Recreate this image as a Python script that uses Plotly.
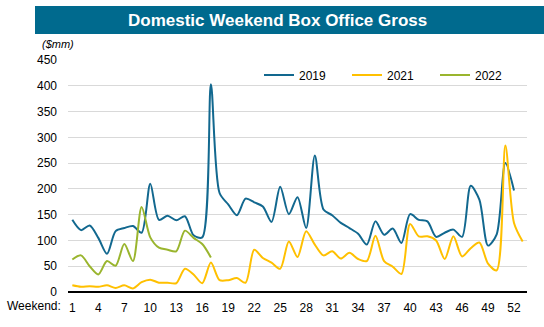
import plotly.graph_objects as go

weeks_2019 = list(range(1, 53))
vals_2019 = [140, 120, 129, 105, 74, 118, 124, 128, 115, 210,
             140, 148, 139, 147, 110, 106, 403, 192, 170, 149,
             181, 174, 166, 136, 204, 151, 184, 124, 265, 160,
             149, 134, 124, 113, 92, 137, 111, 123, 95, 151,
             140, 137, 107, 115, 121, 107, 206, 179, 90, 112,
             250, 197]

weeks_2021 = list(range(1, 54))
vals_2021 = [13, 10, 11, 10, 13, 8, 13, 7, 19, 24,
             18, 18, 17, 45, 34, 17, 57, 23, 23, 27,
             18, 82, 66, 57, 45, 98, 68, 118, 92, 71,
             79, 65, 76, 64, 60, 109, 60, 49, 35, 132,
             108, 108, 100, 64, 108, 69, 85, 96, 55, 42,
             284, 134, 98]

weeks_2022 = list(range(1, 18))
vals_2022 = [63, 71, 50, 34, 60, 51, 93, 60, 165, 106,
             86, 82, 79, 119, 105, 93, 67]

tick_vals = list(range(1, 53, 3))
y_ticks = list(range(0, 451, 50))

C19 = "#12688F"
C21 = "#FFC000"
C22 = "#9AB52E"

fig = go.Figure()
fig.add_trace(go.Scatter(x=weeks_2019, y=vals_2019, name="2019", mode="lines",
                         line=dict(color=C19, width=2, shape="spline", smoothing=0.8)))
fig.add_trace(go.Scatter(x=weeks_2021, y=vals_2021, name="2021", mode="lines",
                         line=dict(color=C21, width=2, shape="spline", smoothing=0.8)))
fig.add_trace(go.Scatter(x=weeks_2022, y=vals_2022, name="2022", mode="lines",
                         line=dict(color=C22, width=2, shape="spline", smoothing=0.8)))

L, R, T, B = 68, 17, 60, 34.5
W, H = 544, 327
pw, ph = W - L - R, H - T - B

def px_to_paper_x(px):
    return (px - L) / pw

def px_to_paper_y(py):
    return (H - B - py) / ph

fig.add_shape(type="rect", xref="paper", yref="paper",
              x0=px_to_paper_x(35), x1=px_to_paper_x(546),
              y0=px_to_paper_y(34), y1=px_to_paper_y(6),
              fillcolor="#006A8E", line=dict(width=0), layer="below")

fig.add_annotation(text="<b>Domestic Weekend Box Office Gross</b>", xref="paper", yref="paper",
                   x=px_to_paper_x(277), y=px_to_paper_y(20), showarrow=False,
                   font=dict(family="Liberation Sans, Arial", size=17, color="white"),
                   xanchor="center", yanchor="middle")
fig.add_annotation(text="<i>($mm)</i>", xref="paper", yref="paper",
                   x=px_to_paper_x(40), y=px_to_paper_y(44), showarrow=False,
                   font=dict(family="Liberation Sans, Arial", size=11, color="black"),
                   xanchor="left", yanchor="middle")
fig.add_annotation(text="Weekend:", xref="paper", yref="paper",
                   x=px_to_paper_x(63), y=px_to_paper_y(307), showarrow=False,
                   font=dict(family="Liberation Sans, Arial", size=12, color="black"),
                   xanchor="right", yanchor="middle")

fig.update_layout(
    width=W, height=H,
    margin=dict(l=L, r=R, t=T, b=B, pad=0),
    paper_bgcolor="white", plot_bgcolor="white",
    font=dict(family="Liberation Sans, Arial", size=12, color="black"),
    showlegend=True,
    legend=dict(orientation="h", x=px_to_paper_x(259), y=px_to_paper_y(75),
                xanchor="left", yanchor="middle", entrywidth=43, entrywidthmode="pixels",
                font=dict(size=12), bgcolor="rgba(0,0,0,0)", itemwidth=30),
    xaxis=dict(range=[0.5, 53.5], tickmode="array", tickvals=tick_vals,
               ticktext=[str(t) for t in tick_vals], showgrid=False, zeroline=False,
               showline=False, ticks="", tickfont=dict(size=12), ticklabelstandoff=7,
               fixedrange=True),
    yaxis=dict(range=[0, 450], tickmode="array", tickvals=y_ticks,
               showgrid=True, gridcolor="#D9D9D9", gridwidth=1, zeroline=True,
               zerolinecolor="black", zerolinewidth=1.5, showline=False, ticks="",
               tickfont=dict(size=12), ticklabelstandoff=10, fixedrange=True),
)

fig.write_html("out.html")
